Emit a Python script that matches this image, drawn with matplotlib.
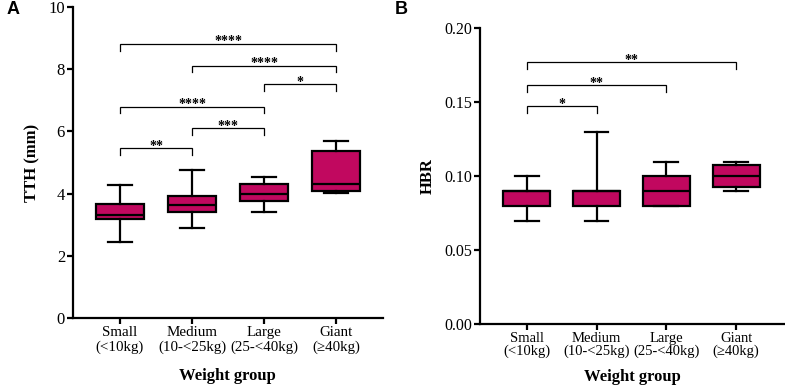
import matplotlib
matplotlib.use("Agg")
import matplotlib.pyplot as plt

# ---------------- data ----------------
groups = ["Small\n(<10kg)", "Medium\n(10-<25kg)", "Large\n(25-<40kg)", "Giant\n(\u226540kg)"]

# Panel A: TTH (mm)
tth_whislo = [2.45, 2.88, 3.40, 4.03]
tth_q1     = [3.20, 3.40, 3.76, 4.10]
tth_med    = [3.30, 3.65, 4.00, 4.30]
tth_q3     = [3.66, 3.93, 4.30, 5.36]
tth_whishi = [4.28, 4.77, 4.54, 5.70]
tth_ticks = [0, 2, 4, 6, 8, 10]
# brackets: (group i, group j, bar height, tick bottom, label)
tth_brackets = [
    (1, 2, 5.47, 5.24, "**"),
    (2, 3, 6.11, 5.88, "***"),
    (1, 3, 6.80, 6.58, "****"),
    (3, 4, 7.53, 7.31, "*"),
    (2, 4, 8.12, 7.92, "****"),
    (1, 4, 8.83, 8.58, "****"),
]

# Panel B: HBR
hbr_whislo = [0.07, 0.07, 0.08, 0.09]
hbr_q1     = [0.08, 0.08, 0.08, 0.0925]
hbr_med    = [0.09, 0.09, 0.09, 0.10]
hbr_q3     = [0.09, 0.09, 0.10, 0.1075]
hbr_whishi = [0.10, 0.13, 0.11, 0.11]
hbr_ticks = [0.00, 0.05, 0.10, 0.15, 0.20]
hbr_brackets = [
    (1, 2, 0.1473, 0.1426, "*"),
    (1, 3, 0.1617, 0.1568, "**"),
    (1, 4, 0.1774, 0.1725, "**"),
]

FILL = "#C1085F"
SERIF = ["Liberation Serif", "DejaVu Serif"]

fig = plt.figure(figsize=(7.85, 3.91), dpi=100)
axA = fig.add_axes([0.0926, 0.1867, 0.3953, 0.795])
axB = fig.add_axes([0.6115, 0.1706, 0.3885, 0.757])


def draw(ax, whislo, q1, med, q3, whishi, ticks, tickfmt, ylim, xlim,
         brackets, ylabel, tickfs, catfs, linesp, xlabelpad):
    stats = []
    for i in range(len(groups)):
        stats.append(dict(whislo=whislo[i], q1=q1[i], med=med[i], q3=q3[i],
                          whishi=whishi[i], fliers=[]))
    pos = list(range(1, len(groups) + 1))
    ax.bxp(stats, positions=pos, widths=0.67, capwidths=0.34, patch_artist=True,
           showfliers=False,
           boxprops=dict(facecolor=FILL, edgecolor="black", linewidth=1.6),
           medianprops=dict(color="black", linewidth=1.6),
           whiskerprops=dict(color="black", linewidth=1.6),
           capprops=dict(color="black", linewidth=1.6))
    ax.set_ylim(*ylim)
    ax.set_xlim(*xlim)
    ax.set_yticks(ticks)
    ax.set_yticklabels([tickfmt.format(t) for t in ticks], fontfamily=SERIF,
                       fontsize=tickfs)
    ax.set_xticks(pos)
    ax.set_xticklabels(groups, fontfamily=SERIF, fontsize=catfs,
                       linespacing=linesp)
    for s in ["top", "right"]:
        ax.spines[s].set_visible(False)
    for s in ["left", "bottom"]:
        ax.spines[s].set_linewidth(1.6)
    ax.tick_params(axis="both", direction="out", length=4, width=1.6, pad=1.5)
    ax.set_ylabel(ylabel, fontfamily=SERIF, fontsize=12, fontweight="bold",
                  labelpad=6)
    ax.set_xlabel("Weight group", fontfamily=SERIF, fontsize=12,
                  fontweight="bold", labelpad=xlabelpad)
    for (i, j, h, b, lab) in brackets:
        ax.plot([i, i, j, j], [b, h, h, b], color="black", lw=0.9,
                solid_joinstyle="miter", clip_on=False)
        ax.annotate(lab, xy=((i + j) / 2, h), xytext=(0, -3.5),
                    textcoords="offset points", ha="center", va="bottom",
                    fontsize=10, fontweight="bold", fontfamily=SERIF)


draw(axA, tth_whislo, tth_q1, tth_med, tth_q3, tth_whishi, tth_ticks, "{:d}",
     (0, 10), (0.343, 4.653), tth_brackets, "TTH (mm)", 12, 10.8, 1.15, 10)
draw(axB, hbr_whislo, hbr_q1, hbr_med, hbr_q3, hbr_whishi, hbr_ticks, "{:.2f}",
     (0, 0.20), (0.33, 4.70), hbr_brackets, "HBR", 11.5, 10.5, 0.95, 8)

fig.text(0.008, 0.975, "A", fontsize=13, fontweight="bold",
         fontfamily=["Liberation Sans", "DejaVu Sans"], va="center")
fig.text(0.503, 0.975, "B", fontsize=13, fontweight="bold",
         fontfamily=["Liberation Sans", "DejaVu Sans"], va="center")

fig.savefig("out.png", dpi=100)
